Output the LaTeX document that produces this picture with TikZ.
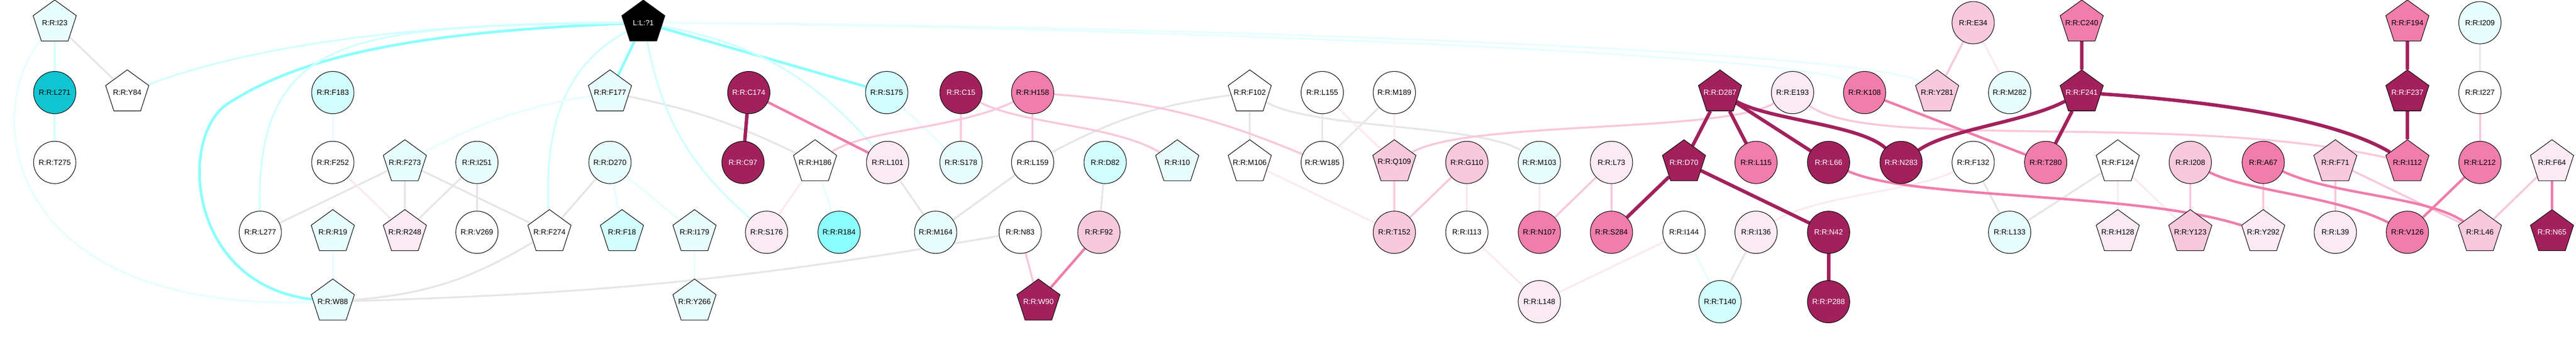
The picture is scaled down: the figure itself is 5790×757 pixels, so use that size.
\documentclass[tikz,border=0pt]{standalone}
\usepackage{fontspec}
\setmainfont{Liberation Sans}
\usetikzlibrary{shapes.geometric,backgrounds}

\definecolor{ncyanA}{HTML}{E8FEFE}
\definecolor{ncyanB}{HTML}{D2FEFE}
\definecolor{ncyanC}{HTML}{8CFEFE}
\definecolor{nteal}{HTML}{10C5D1}
\definecolor{npinkA}{HTML}{FBEAF3}
\definecolor{npinkB}{HTML}{F8C8DD}
\definecolor{npinkC}{HTML}{F07DAB}
\definecolor{ndark}{HTML}{A2215D}
\definecolor{egrey}{HTML}{E6E6E6}

\begin{document}
\begin{tikzpicture}[
    x=0.01cm, y=-0.01cm,
    every node/.style={
        draw,
        line width=0.35pt,
        inner sep=0pt,
        font=\fontsize{4.8}{5}\selectfont
    },
    res/.style={circle, minimum size=0.95cm},
    pent/.style={regular polygon, regular polygon sides=5, inner sep=-2mm, minimum size=1.02cm},
    wh/.style={fill=white},
    ca/.style={fill=ncyanA},
    cb/.style={fill=ncyanB},
    cc/.style={fill=ncyanC},
    tl/.style={fill=nteal},
    pa/.style={fill=npinkA},
    pb/.style={fill=npinkB},
    pc/.style={fill=npinkC},
    dk/.style={fill=ndark, text=white},
    lig/.style={fill=black, text=white},
    eg/.style={draw=egrey, line width=1.2pt},
    eca/.style={draw=ncyanA, line width=1.2pt},
    ecb/.style={draw=ncyanB, line width=1.2pt},
    ecc/.style={draw=ncyanC, line width=1.7pt},
    epa/.style={draw=npinkA, line width=1.2pt},
    epb/.style={draw=npinkB, line width=1.3pt},
    epc/.style={draw=npinkC, line width=1.6pt},
    edk/.style={draw=ndark, line width=2.2pt}
]
\useasboundingbox (0,0) rectangle (5790,757);

% 노드 (1행)
\node[pent,ca] (I23) at (123,51) {R:R:I23};
\node[pent,lig] (L1) at (1446,51) {L:L:?1};
\node[res,pb] (E34) at (4435,51) {R:R:E34};
\node[pent,pc] (C240) at (4679,51) {R:R:C240};
\node[pent,pc] (F194) at (5411,51) {R:R:F194};
\node[res,ca] (I209) at (5574,51) {R:R:I209};

% 노드 (2행)
\node[res,tl] (L271) at (123,208) {R:R:L271};
\node[pent,wh] (Y84) at (286,208) {R:R:Y84};
\node[res,cb] (F183) at (748,208) {R:R:F183};
\node[pent,ca] (F177) at (1371,208) {R:R:F177};
\node[res,dk] (C174) at (1683,208) {R:R:C174};
\node[res,cb] (S175) at (1993,208) {R:R:S175};
\node[res,dk] (C15) at (2160,208) {R:R:C15};
\node[res,pc] (H158) at (2321,208) {R:R:H158};
\node[pent,wh] (F102) at (2809,208) {R:R:F102};
\node[res,wh] (L155) at (2972,208) {R:R:L155};
\node[res,wh] (M189) at (3134,208) {R:R:M189};
\node[pent,dk] (D287) at (3866,208) {R:R:D287};
\node[res,pa] (E193) at (4029,208) {R:R:E193};
\node[res,pc] (K108) at (4191,208) {R:R:K108};
\node[pent,pb] (Y281) at (4354,208) {R:R:Y281};
\node[res,ca] (M282) at (4517,208) {R:R:M282};
\node[pent,dk] (F241) at (4679,208) {R:R:F241};
\node[pent,dk] (F237) at (5411,208) {R:R:F237};
\node[res,wh] (I227) at (5574,208) {R:R:I227};

% 노드 (3행)
\node[res,wh] (T275) at (123,365) {R:R:T275};
\node[res,wh] (F252) at (748,365) {R:R:F252};
\node[pent,ca] (F273) at (910,365) {R:R:F273};
\node[res,ca] (I251) at (1072,365) {R:R:I251};
\node[res,ca] (D270) at (1371,365) {R:R:D270};
\node[res,dk] (C97) at (1670,365) {R:R:C97};
\node[pent,wh] (H186) at (1832,365) {R:R:H186};
\node[res,pa] (L101) at (1995,365) {R:R:L101};
\node[res,ca] (S178) at (2160,365) {R:R:S178};
\node[res,wh] (L159) at (2321,365) {R:R:L159};
\node[res,cb] (D82) at (2484,365) {R:R:D82};
\node[pent,ca] (I10) at (2646,365) {R:R:I10};
\node[pent,wh] (M106) at (2809,365) {R:R:M106};
\node[res,wh] (W185) at (2972,365) {R:R:W185};
\node[pent,pb] (Q109) at (3134,365) {R:R:Q109};
\node[res,pb] (G110) at (3297,365) {R:R:G110};
\node[res,ca] (M103) at (3460,365) {R:R:M103};
\node[res,pa] (L73) at (3622,365) {R:R:L73};
\node[pent,dk] (D70) at (3785,365) {R:R:D70};
\node[res,pc] (L115) at (3947,365) {R:R:L115};
\node[res,dk] (L66) at (4110,365) {R:R:L66};
\node[res,dk] (N283) at (4273,365) {R:R:N283};
\node[res,wh] (F132) at (4435,365) {R:R:F132};
\node[res,pc] (T280) at (4598,365) {R:R:T280};
\node[pent,wh] (F124) at (4760,365) {R:R:F124};
\node[res,pb] (I208) at (4923,365) {R:R:I208};
\node[res,pc] (A67) at (5087,365) {R:R:A67};
\node[pent,pb] (F71) at (5249,365) {R:R:F71};
\node[pent,pc] (I112) at (5411,365) {R:R:I112};
\node[res,pc] (L212) at (5574,365) {R:R:L212};
\node[pent,pa] (F64) at (5736,365) {R:R:F64};

% 노드 (4행)
\node[res,wh] (L277) at (585,522) {R:R:L277};
\node[pent,ca] (R19) at (748,522) {R:R:R19};
\node[pent,pa] (R248) at (910,522) {R:R:R248};
\node[res,wh] (V269) at (1072,522) {R:R:V269};
\node[pent,wh] (F274) at (1235,522) {R:R:F274};
\node[pent,cb] (F18) at (1398,522) {R:R:F18};
\node[pent,ca] (I179) at (1561,522) {R:R:I179};
\node[res,pa] (S176) at (1723,522) {R:R:S176};
\node[res,cc] (R184) at (1886,522) {R:R:R184};
\node[res,ca] (M164) at (2103,522) {R:R:M164};
\node[res,wh] (N83) at (2293,522) {R:R:N83};
\node[res,pb] (F92) at (2470,522) {R:R:F92};
\node[res,pb] (T152) at (3134,522) {R:R:T152};
\node[res,wh] (I113) at (3297,522) {R:R:I113};
\node[res,pc] (N107) at (3460,522) {R:R:N107};
\node[res,pc] (S284) at (3622,522) {R:R:S284};
\node[res,wh] (I144) at (3785,522) {R:R:I144};
\node[res,pa] (I136) at (3947,522) {R:R:I136};
\node[res,dk] (N42) at (4110,522) {R:R:N42};
\node[res,ca] (L133) at (4517,522) {R:R:L133};
\node[pent,pa] (H128) at (4760,522) {R:R:H128};
\node[pent,pb] (Y123) at (4923,522) {R:R:Y123};
\node[pent,pa] (Y292) at (5087,522) {R:R:Y292};
\node[res,pa] (L39) at (5249,522) {R:R:L39};
\node[res,pc] (V126) at (5411,522) {R:R:V126};
\node[pent,pb] (L46) at (5574,522) {R:R:L46};
\node[pent,dk] (N65) at (5736,522) {R:R:N65};

% 노드 (5행)
\node[pent,ca] (W88) at (748,678) {R:R:W88};
\node[pent,ca] (Y266) at (1561,678) {R:R:Y266};
\node[pent,dk] (W90) at (2334,678) {R:R:W90};
\node[res,pa] (L148) at (3460,678) {R:R:L148};
\node[res,cb] (T140) at (3866,678) {R:R:T140};
\node[res,dk] (P288) at (4110,678) {R:R:P288};

\begin{pgfonlayer}{background}
% 간선 (회색)
\draw[eg] (I23) -- (Y84);
\draw[eg] (F273) -- (R248);
\draw[eg] (F273) -- (L277);
\draw[eg] (F273) -- (F274);
\draw[eg] (I251) -- (R248);
\draw[eg] (I251) -- (V269);
\draw[eg] (D270) -- (F274);
\draw[eg] (F274) to[bend left=13] (W88);
\draw[eg] (W88) to[bend right=4] (N83);
\draw[eg] (F177) to[bend left=7] (H186);
\draw[eg] (L101) -- (M164);
\draw[eg] (M164) -- (L159);
\draw[eg] (L159) to[bend left=10] (F102);
\draw[eg] (D82) -- (F92);
\draw[eg] (F102) -- (M106);
\draw[eg] (F102) .. controls (2950,290) and (3330,280) .. (M103);
\draw[eg] (L155) -- (W185);
\draw[eg] (M189) -- (W185);
\draw[eg] (I136) -- (T140);
\draw[eg] (F132) -- (L133);
\draw[eg] (F124) -- (L133);
\draw[eg] (I209) -- (I227);

% 간선 (하늘색)
\draw[ecb] (I23) -- (L271);
\draw[ecb] (L271) -- (T275);
\draw[eca] (I23) .. controls (-40,250) and (0,700) .. (W88);
\draw[ecb] (L1) .. controls (1000,50) and (600,90) .. (Y84);
\draw[ecc] (L1) .. controls (1000,70) and (700,110) .. (512,233)
    .. controls (400,306) and (420,640) .. (W88);
\draw[ecb] (L1) .. controls (800,60) and (575,70) .. (L277);
\draw[ecb] (L1) .. controls (1260,150) and (1225,300) .. (F274);
\draw[ecc] (L1) -- (F177);
\draw[ecc] (L1) -- (S175);
\draw[ecb] (L1) to[bend left=19] (L101);
\draw[ecb] (L1) to[bend right=19] (S176);
\draw[eca] (L1) .. controls (2500,60) and (4050,120) .. (K108);
\draw[eca] (L1) .. controls (2500,55) and (4200,110) .. (Y281);
\draw[eca] (F183) -- (F252);
\draw[eca] (F273) to[bend left=9] (F177);
\draw[eca] (D270) -- (F18);
\draw[eca] (D270) -- (I179);
\draw[eca] (R19) -- (W88);
\draw[eca] (I179) -- (Y266);
\draw[eca] (H186) -- (R184);
\draw[eca] (S175) -- (S178);
\draw[eca] (I144) -- (T140);

% 간선 (분홍)
\draw[epa] (F252) -- (R248);
\draw[epa] (H186) -- (S176);
\draw[epa] (M106) -- (T152);
\draw[epa] (L155) -- (Q109);
\draw[epa] (M189) -- (Q109);
\draw[epa] (G110) -- (I113);
\draw[epa] (M103) -- (N107);
\draw[epa] (I113) -- (L148);
\draw[epa] (L148) -- (I144);
\draw[epa] (I136) .. controls (4080,440) and (4300,430) .. (F132);
\draw[epa] (E34) -- (M282);
\draw[epa] (F124) -- (H128);
\draw[epa] (F124) -- (Y123);
\draw[epb] (H186) .. controls (1950,290) and (2150,290) .. (H158);
\draw[epb] (C15) -- (S178);
\draw[epb] (C15) .. controls (2300,280) and (2500,280) .. (I10);
\draw[epb] (H158) -- (L159);
\draw[epb] (H158) to[bend left=9] (W185);
\draw[epb] (N83) -- (W90);
\draw[epb] (Q109) -- (T152);
\draw[epb] (G110) -- (T152);
\draw[epb] (Q109) .. controls (3300,270) and (3870,300) .. (E193);
\draw[epb] (L73) -- (N107);
\draw[epb] (L73) -- (S284);
\draw[epb] (E34) -- (Y281);
\draw[epb] (E193) .. controls (4200,340) and (4900,250) .. (I112);
\draw[epb] (I208) -- (Y123);
\draw[epb] (A67) -- (Y292);
\draw[epb] (F71) -- (L39);
\draw[epb] (F71) -- (L46);
\draw[epb] (I227) -- (L212);
\draw[epb] (F64) -- (L46);
\draw[epc] (C174) -- (L101);
\draw[epc] (F92) -- (W90);
\draw[epc] (K108) -- (T280);
\draw[epc] (L66) .. controls (4300,450) and (4800,430) .. (Y292);
\draw[epc] (I208) .. controls (5050,430) and (5250,440) .. (V126);
\draw[epc] (A67) .. controls (5250,440) and (5450,440) .. (L46);
\draw[epc] (L212) -- (V126);
\draw[epc] (F64) -- (N65);

% 간선 (진한 자주)
\draw[edk] (C174) -- (C97);
\draw[edk] (D287) -- (D70);
\draw[edk] (D287) -- (L115);
\draw[edk] (D287) -- (L66);
\draw[edk] (D287) .. controls (3980,270) and (4180,280) .. (N283);
\draw[edk] (D70) -- (S284);
\draw[edk] (D70) -- (N42);
\draw[edk] (N42) -- (P288);
\draw[edk] (C240) -- (F241);
\draw[edk] (F241) .. controls (4550,275) and (4380,290) .. (N283);
\draw[edk] (F241) -- (T280);
\draw[edk] (F241) .. controls (5000,230) and (5250,270) .. (I112);
\draw[edk] (F194) -- (F237);
\draw[edk] (F237) -- (I112);
\end{pgfonlayer}

\end{tikzpicture}
\end{document}
